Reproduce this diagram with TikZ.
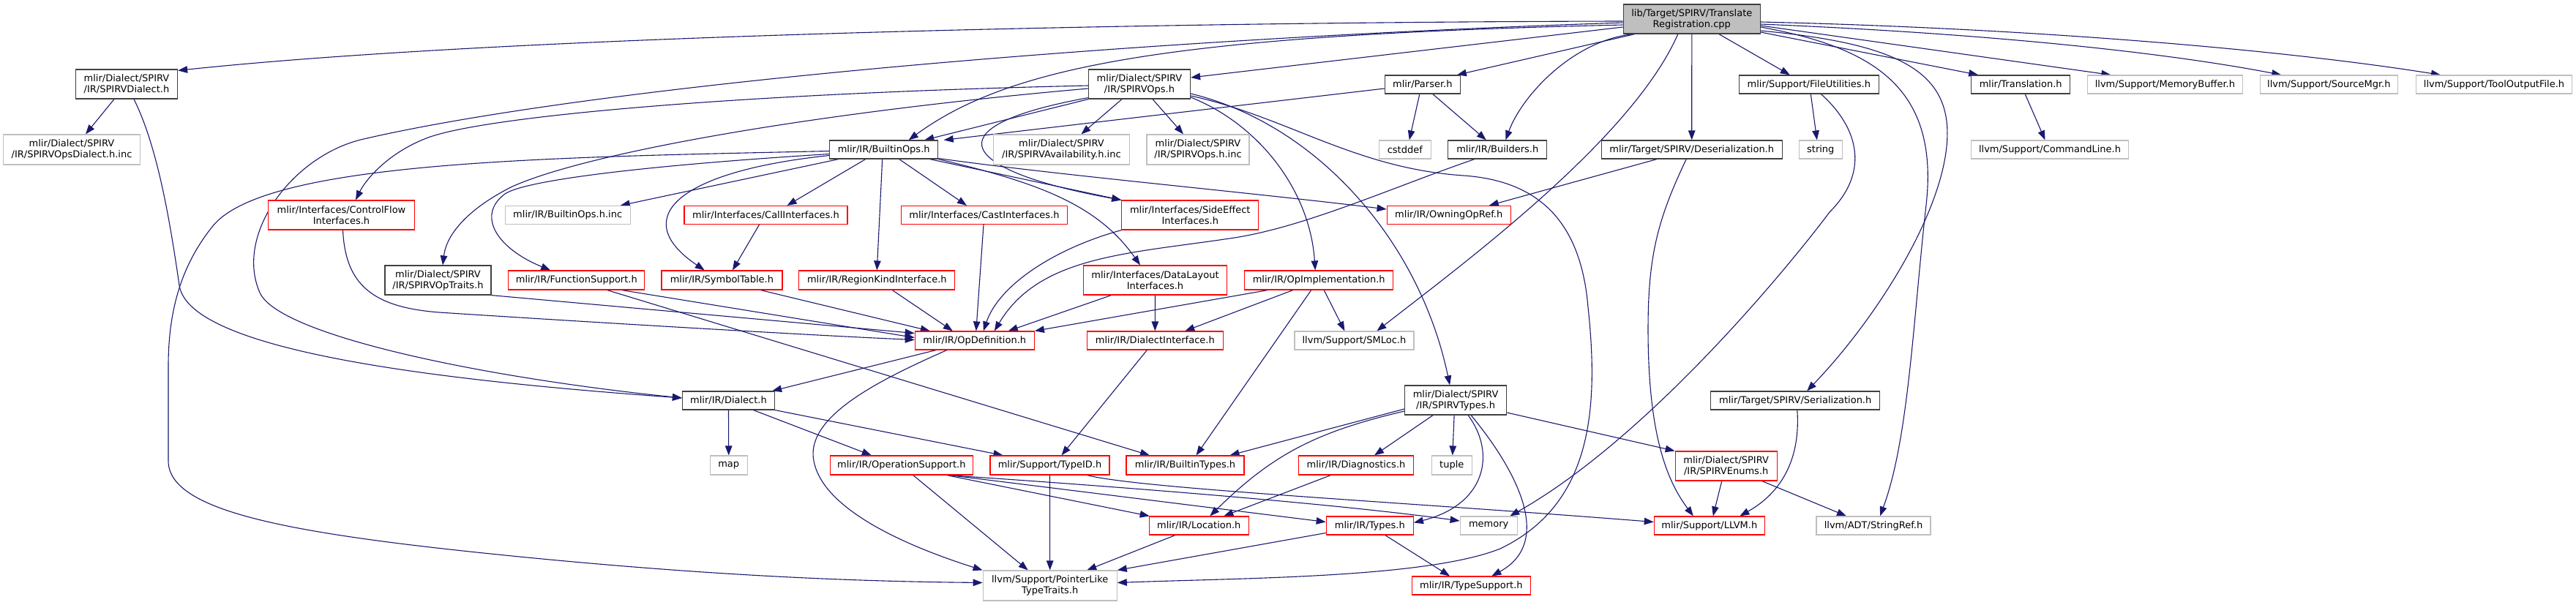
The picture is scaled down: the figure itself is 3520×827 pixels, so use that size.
\documentclass[tikz,border=0pt]{standalone}
\usepackage{fontspec}
\setmainfont{DejaVu Sans}
\usetikzlibrary{arrows.meta}
\pgfdeclarelayer{background}
\pgfsetlayers{background,main}
\definecolor{edgec}{HTML}{191970}
\definecolor{gsev}{HTML}{BFBFBF}
\definecolor{gtwf}{HTML}{404040}
\begin{document}
\begin{tikzpicture}[x=1pt,y=-1pt,
  box/.style={rectangle, inner sep=0pt, align=center, font=\fontsize{13}{15}\selectfont, line width=1.2pt, fill=white},
  nb/.style={box, draw=gtwf},
  nr/.style={box, draw=red},
  ng/.style={box, draw=gsev},
  nroot/.style={box, draw=gtwf, fill=gsev},
  dep/.style={draw=edgec, line width=1.1pt, -{Triangle[length=13pt,width=9.5pt]}},
  sz/.style 2 args={minimum width=#1pt, minimum height=#2pt}
]
\useasboundingbox (0,0) rectangle (3520,827);
% nodes
\node[nroot,sz={187}{40}] (R) at (2311.8,26) {lib/Target/SPIRV/Translate\\Registration.cpp};
\node[nb,sz={139}{40}] (sd) at (173,115) {mlir/Dialect/SPIRV\\/IR/SPIRVDialect.h};
\node[ng,sz={187}{41}] (sdinc) at (98,204.5) {mlir/Dialect/SPIRV\\/IR/SPIRVOpsDialect.h.inc};
\node[nr,sz={200}{40}] (cf) at (466.5,294) {mlir/Interfaces/ControlFlow\\Interfaces.h};
\node[nb,sz={145}{40}] (ot) at (598.5,383) {mlir/Dialect/SPIRV\\/IR/SPIRVOpTraits.h};
\node[nb,sz={148}{25}] (bo) at (1207.7,204.5) {mlir/IR/BuiltinOps.h};
\node[ng,sz={171}{25}] (boinc) at (775.7,294) {mlir/IR/BuiltinOps.h.inc};
\node[nr,sz={223}{25}] (ci) at (1046.5,294) {mlir/Interfaces/CallInterfaces.h};
\node[nr,sz={186}{26}] (fs) at (787.8,383) {mlir/IR/FunctionSupport.h};
\node[nr,sz={165}{26}] (st) at (986.4,383) {mlir/IR/SymbolTable.h};
\node[nr,sz={213}{26}] (rk) at (1198.3,383) {mlir/IR/RegionKindInterface.h};
\node[nb,sz={139}{40}] (so) at (1557,115) {mlir/Dialect/SPIRV\\/IR/SPIRVOps.h};
\node[ng,sz={186}{41}] (sa) at (1450.4,204.5) {mlir/Dialect/SPIRV\\/IR/SPIRVAvailability.h.inc};
\node[ng,sz={140}{41}] (soinc) at (1637,204.5) {mlir/Dialect/SPIRV\\/IR/SPIRVOps.h.inc};
\node[nr,sz={227}{25}] (cast) at (1345,294) {mlir/Interfaces/CastInterfaces.h};
\node[nr,sz={187}{40}] (se) at (1626.3,294) {mlir/Interfaces/SideEffect\\Interfaces.h};
\node[nr,sz={196}{40}] (dl) at (1578.5,383) {mlir/Interfaces/DataLayout\\Interfaces.h};
\node[nr,sz={203}{26}] (oi) at (1802.2,383) {mlir/IR/OpImplementation.h};
\node[nb,sz={103}{25}] (par) at (1943.8,115.5) {mlir/Parser.h};
\node[ng,sz={71}{25}] (cst) at (1919.8,204.5) {cstddef};
\node[nb,sz={135}{25}] (bld) at (2046.3,204.5) {mlir/IR/Builders.h};
\node[nb,sz={247}{25}] (des) at (2311.7,204.5) {mlir/Target/SPIRV/Deserialization.h};
\node[nr,sz={169}{25}] (oor) at (1979.7,294) {mlir/IR/OwningOpRef.h};
\node[nb,sz={191}{25}] (fu) at (2471.8,115.5) {mlir/Support/FileUtilities.h};
\node[ng,sz={59}{25}] (str) at (2487.8,204.5) {string};
\node[nb,sz={135}{25}] (tr) at (2761.2,115.5) {mlir/Translation.h};
\node[ng,sz={215}{25}] (cl) at (2801,204.5) {llvm/Support/CommandLine.h};
\node[ng,sz={212}{25}] (mb) at (2958.4,115.5) {llvm/Support/MemoryBuffer.h};
\node[ng,sz={188}{25}] (sm) at (3182.3,115.5) {llvm/Support/SourceMgr.h};
\node[ng,sz={213.5}{25}] (tof) at (3408,115.5) {llvm/Support/ToolOutputFile.h};
\node[nb,sz={126}{25}] (dia) at (995.5,547.5) {mlir/IR/Dialect.h};
\node[ng,sz={51}{26}] (map) at (995.7,636) {map};
\node[nr,sz={195}{26}] (ops) at (1231.8,636) {mlir/IR/OperationSupport.h};
\node[nr,sz={163}{25}] (od) at (1331.8,465.5) {mlir/IR/OpDefinition.h};
\node[nr,sz={186}{25}] (di) at (1578.3,465.5) {mlir/IR/DialectInterface.h};
\node[nr,sz={163}{26}] (tid) at (1434.5,636) {mlir/Support/TypeID.h};
\node[nr,sz={161}{26}] (bt) at (1619.5,636) {mlir/IR/BuiltinTypes.h};
\node[nr,sz={136}{25}] (loc) at (1638.3,718.5) {mlir/IR/Location.h};
\node[ng,sz={183}{41}] (pl) at (1434.7,800.5) {llvm/Support/PointerLike\\TypeTraits.h};
\node[ng,sz={163}{25}] (sml) at (1850.4,465.5) {llvm/Support/SMLoc.h};
\node[nb,sz={139}{40}] (sty) at (1989.1,547) {mlir/Dialect/SPIRV\\/IR/SPIRVTypes.h};
\node[nr,sz={157}{26}] (diag) at (1853,636) {mlir/IR/Diagnostics.h};
\node[ng,sz={55}{26}] (tup) at (1983.8,636) {tuple};
\node[nr,sz={119}{25}] (ty) at (1871.8,718.5) {mlir/IR/Types.h};
\node[ng,sz={78}{25}] (mem) at (2034.2,718.5) {memory};
\node[nr,sz={162}{25}] (ts) at (2010.4,800.5) {mlir/IR/TypeSupport.h};
\node[nr,sz={139}{40}] (en) at (2358.7,637) {mlir/Dialect/SPIRV\\/IR/SPIRVEnums.h};
\node[nr,sz={151}{25}] (llvm) at (2335.8,718.5) {mlir/Support/LLVM.h};
\node[nb,sz={231}{25}] (ser) at (2453.2,547.5) {mlir/Target/SPIRV/Serialization.h};
\node[ng,sz={156}{25}] (sr) at (2560,718.5) {llvm/ADT/StringRef.h};
% edges
\begin{pgfonlayer}{background}
\fill[white] (0,0) rectangle (3520,827);
% root
\draw[dep] ([yshift=-3pt]R.west) .. controls (1600,30) and (700,48) .. ([yshift=-2pt]sd.north east);
\draw[dep] ([yshift=-11pt]R.west) -- ([yshift=9pt]so.east);
\draw[dep] ([yshift=-8pt]R.west) .. controls (1600,48) and (1380,90) .. ([xshift=34pt]bo.north);
\draw[dep] ([yshift=-5pt]R.west) .. controls (1500,55) and (800,120) .. (497,190) .. controls (400,212) and (320,320) .. (355,400) .. controls (380,457) and (650,515) .. ([yshift=3.5pt]dia.west);
\draw[dep] ([xshift=-78pt]R.south) -- ([xshift=-5pt]par.north east);
\draw[dep] ([xshift=-80pt]R.south) .. controls (2150,55) and (2080,130) .. ([xshift=11pt]bld.north);
\draw[dep] ([xshift=-19pt]R.south) .. controls (2230,190) and (2000,360) .. ([xshift=31pt]sml.north);
\draw[dep] (R.south) -- (des.north);
\draw[dep] ([xshift=37pt]R.south) -- ([xshift=-26pt]fu.north);
\draw[dep] ([yshift=-16pt]R.east) .. controls (2600,60) and (2670,100) .. (2660,200) .. controls (2650,300) and (2560,440) .. ([xshift=16pt]ser.north);
\draw[dep] ([yshift=-11pt]R.east) .. controls (2560,65) and (2650,120) .. (2632,280) .. controls (2614,440) and (2608,600) .. ([xshift=9pt]sr.north);
\draw[dep] ([yshift=-18pt]R.east) -- ([xshift=-58pt]tr.north);
\draw[dep] ([yshift=-9pt]R.east) -- ([xshift=-74pt]mb.north);
\draw[dep] ([yshift=-7pt]R.east) .. controls (2700,45) and (2950,70) .. ([xshift=-65pt]sm.north);
\draw[dep] ([yshift=-4pt]R.east) .. controls (2750,38) and (3100,65) .. ([xshift=-73pt]tof.north);
% SPIRVDialect
\draw[dep] ([xshift=-17pt]sd.south) -- ([xshift=19pt]sdinc.north);
\draw[dep] ([xshift=10pt]sd.south) .. controls (215,200) and (232,300) .. (245,390) .. controls (258,480) and (600,520) .. ([yshift=3.5pt]dia.west);
% SPIRVOps
\draw[dep] (so.south west) -- ([xshift=55.6pt]bo.north);
\draw[dep] ([yshift=-2pt]so.west) .. controls (1000,128) and (650,160) .. (580,190) .. controls (530,210) and (500,245) .. ([xshift=19.5pt]cf.north);
\draw[dep] ([yshift=-6pt]so.west) .. controls (1100,155) and (800,210) .. (700,255) .. controls (640,285) and (610,320) .. ([xshift=6.5pt]ot.north);
\draw[dep] ([yshift=2pt]so.south west) .. controls (1260,175) and (1320,235) .. (se.north west);
\draw[dep] ([xshift=-24pt]so.south) -- ([xshift=27pt]sa.north);
\draw[dep] ([xshift=18pt]so.south) -- ([xshift=-20pt]soinc.north);
\draw[dep] ([yshift=-16pt]so.east) .. controls (1760,160) and (1850,230) .. (2000,240) .. controls (2100,247) and (2160,300) .. (2170,420) .. controls (2185,560) and (2175,690) .. (2050,750) .. controls (1950,790) and (1700,790) .. ([yshift=4pt]pl.east);
\draw[dep] ([yshift=-13pt]so.east) .. controls (1800,170) and (1940,330) .. ([xshift=-8pt]sty.north);
\draw[dep] ([yshift=-18pt]so.east) .. controls (1720,170) and (1790,260) .. ([xshift=-5pt]oi.north);
% Parser
\draw[dep] ([yshift=-5.5pt]par.west) -- ([xshift=82pt]bo.north);
\draw[dep] ([xshift=-4pt]par.south) -- ([xshift=6pt]cst.north);
\draw[dep] ([xshift=14pt]par.south) -- ([xshift=-15.5pt]bld.north);
% BuiltinOps
\draw[dep] ([yshift=-2pt]bo.west) .. controls (750,215) and (360,220) .. (290,310) .. controls (250,360) and (230,420) .. (230,500) -- (230,630) .. controls (230,700) and (400,730) .. (700,760) .. controls (1000,790) and (1200,795) .. ([yshift=4pt]pl.west);
\draw[dep] ([yshift=-6pt]bo.west) .. controls (900,225) and (720,245) .. (690,265) .. controls (650,295) and (680,340) .. ([xshift=-35.6pt]fs.north);
\draw[dep] ([xshift=12.6pt]bo.south west) -- ([xshift=72pt]boinc.north);
\draw[dep] ([yshift=-8pt]bo.west) .. controls (920,235) and (860,300) .. ([xshift=-23.7pt]st.north);
\draw[dep] ([xshift=-25pt]bo.south) -- ([xshift=29pt]ci.north);
\draw[dep] ([xshift=-2pt]bo.south) -- (rk.north);
\draw[dep] ([xshift=21pt]bo.south) -- ([xshift=-24pt]cast.north);
\draw[dep] ([xshift=63pt]bo.south) -- (se.north west);
\draw[dep] (bo.south east) .. controls (1420,250) and (1500,280) .. ([xshift=-20.5pt]dl.north);
\draw[dep] ([yshift=-12pt]bo.east) .. controls (1450,240) and (1700,262) .. ([yshift=8pt]oor.west);
% Builders
\draw[dep] ([xshift=-31.5pt]bld.south) .. controls (1900,257) and (1780,312) .. (1680,326) .. controls (1540,347) and (1420,350) .. ([xshift=27pt]od.north);
% Deserialization
\draw[dep] ([xshift=-47.7pt]des.south) -- ([xshift=55pt]oor.north);
\draw[dep] ([xshift=-7.5pt]des.south) .. controls (2265,300) and (2252,350) .. (2252,450) .. controls (2252,600) and (2280,660) .. ([xshift=-22pt]llvm.north);
% FileUtilities
\draw[dep] ([xshift=2.5pt]fu.south) -- ([xshift=-5pt]str.north);
\draw[dep] ([xshift=16.6pt]fu.south) .. controls (2540,175) and (2555,235) .. (2500,290) .. controls (2440,370) and (2250,600) .. ([xshift=29pt]mem.north);
% Translation
\draw[dep] ([xshift=6pt]tr.south) -- ([xshift=-6.5pt]cl.north);
% into OpDefinition
\draw[dep] ([xshift=2pt]cf.south) .. controls (472,390) and (510,420) .. (600,427) .. controls (800,440) and (1100,458) .. ([yshift=1pt]od.west);
\draw[dep] (ot.south east) -- ([yshift=10pt]od.west);
\draw[dep] ([xshift=62pt]fs.south) -- ([yshift=4pt]od.west);
\draw[dep] ([xshift=42pt]fs.south) -- ([xshift=-48.5pt]bt.north);
\draw[dep] ([xshift=-9pt]ci.south) -- ([xshift=14.6pt]st.north);
\draw[dep] ([xshift=53pt]st.south) -- ([xshift=-61pt]od.north);
\draw[dep] ([xshift=21pt]rk.south) -- ([xshift=-30pt]od.north);
\draw[dep] ([xshift=-1pt]cast.south) -- ([xshift=2pt]od.north);
\draw[dep] (se.south west) .. controls (1440,340) and (1365,390) .. ([xshift=12pt]od.north);
\draw[dep] ([xshift=-60pt]dl.south) -- ([xshift=46pt]od.north);
\draw[dep] (dl.south) -- (di.north);
% OpImplementation
\draw[dep] ([xshift=-70pt]oi.south) -- (od.north east);
\draw[dep] ([xshift=-35.5pt]oi.south) -- ([xshift=41pt]di.north);
\draw[dep] ([xshift=7pt]oi.south) -- ([xshift=-13pt]sml.north);
\draw[dep] ([xshift=-10.5pt]oi.south) -- ([xshift=15pt]bt.north);
% OpDefinition
\draw[dep] ([xshift=-53pt]od.south) -- ([xshift=-4pt]dia.north east);
\draw[dep] ([xshift=-38pt]od.south) .. controls (1200,520) and (1100,570) .. (1112,630) .. controls (1125,700) and (1250,750) .. (pl.north west);
% Dialect
\draw[dep] (dia.south) -- (map.north);
\draw[dep] (dia.south east) -- ([xshift=-64pt]tid.north);
\draw[dep] ([xshift=34pt]dia.south) -- ([xshift=-41pt]ops.north);
\draw[dep] ([xshift=-11pt]di.south) -- ([xshift=16pt]tid.north);
% OperationSupport
\draw[dep] ([xshift=16pt]ops.south) -- ([xshift=-30pt]pl.north);
\draw[dep] ([xshift=62pt]ops.south) -- ([xshift=1pt]loc.north west);
\draw[dep] ([xshift=66pt]ops.south) -- ([yshift=5pt]ty.west);
\draw[dep] ([xshift=64pt]ops.south) .. controls (1600,670) and (1850,692) .. ([yshift=6.5pt]mem.west);
% TypeID
\draw[dep] (tid.south) -- (pl.north);
\draw[dep] ([xshift=51pt]tid.south) .. controls (1560,668) and (1900,685) .. ([yshift=5pt]llvm.west);
% SPIRVTypes
\draw[dep] ([yshift=-12pt]sty.west) -- ([xshift=61pt]bt.north);
\draw[dep] ([yshift=-15pt]sty.west) .. controls (1800,590) and (1740,620) .. ([xshift=15pt]loc.north);
\draw[dep] ([xshift=-31pt]sty.south) -- ([xshift=25pt]diag.north);
\draw[dep] ([xshift=-2pt]sty.south) -- ([xshift=1pt]tup.north);
\draw[dep] ([xshift=17pt]sty.south) .. controls (2045,620) and (2030,690) .. ([yshift=4pt]ty.east);
\draw[dep] ([xshift=21pt]sty.south) .. controls (2070,640) and (2125,740) .. ([xshift=28pt]ts.north);
\draw[dep] ([yshift=-17pt]sty.east) -- (en.north west);
% rest
\draw[dep] ([xshift=-34.6pt]diag.south) -- ([xshift=34pt]loc.north);
\draw[dep] ([xshift=21pt]ty.south) -- ([xshift=-29.4pt]ts.north);
\draw[dep] ([yshift=-10pt]ty.west) -- (pl.north east);
\draw[dep] ([xshift=-32.5pt]loc.south) -- ([xshift=50.5pt]pl.north);
\draw[dep] ([xshift=-6pt]en.south) -- ([xshift=5pt]llvm.north);
\draw[dep] ([xshift=49pt]en.south) -- ([xshift=-37pt]sr.north);
\draw[dep] ([xshift=2.6pt]ser.south) .. controls (2460,620) and (2440,670) .. ([xshift=41.6pt]llvm.north);
\end{pgfonlayer}
\end{tikzpicture}
\end{document}
